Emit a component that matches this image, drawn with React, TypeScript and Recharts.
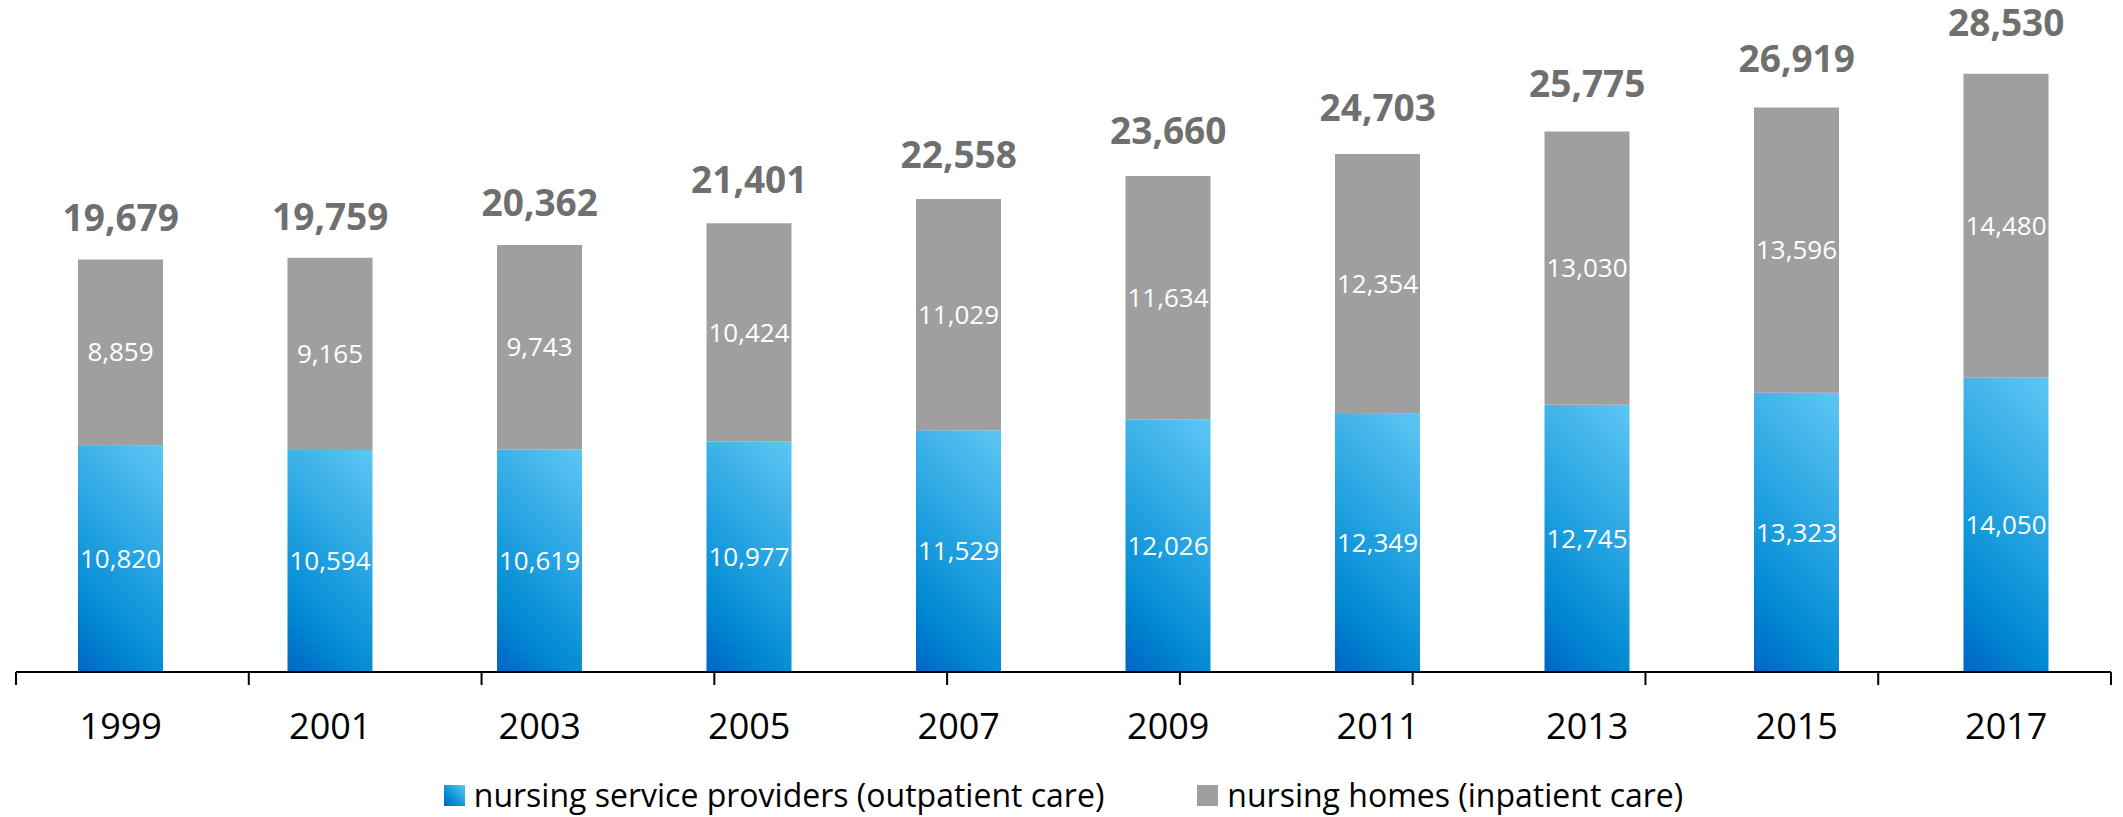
import React from 'react';
import { ComposedChart, Bar, Line, XAxis, YAxis, LabelList, Legend } from 'recharts';

const years = ['1999', '2001', '2003', '2005', '2007', '2009', '2011', '2013', '2015', '2017'];
const outpatient = [10820, 10594, 10619, 10977, 11529, 12026, 12349, 12745, 13323, 14050];
const inpatient = [8859, 9165, 9743, 10424, 11029, 11634, 12354, 13030, 13596, 14480];
const totals = [19679, 19759, 20362, 21401, 22558, 23660, 24703, 25775, 26919, 28530];
const edgeTicks = [0, 1, 2, 3, 4, 5, 6, 7, 8, 9, 10];
const seriesNames = ['nursing service providers (outpatient care)', 'nursing homes (inpatient care)'];

const data = years.map((y, i) => ({
  year: y,
  outpatient: outpatient[i],
  inpatient: inpatient[i],
  total: totals[i],
}));

const FONT = '"Open Sans", sans-serif';
const fmt = (v: any) => Number(v).toLocaleString('en-US');

const BLUE_STOPS = [
  { o: 0, c: '#0064c6' },
  { o: 0.22, c: '#0088d2' },
  { o: 0.5, c: '#20a0e0' },
  { o: 0.78, c: '#44b5ea' },
  { o: 1, c: '#5cc7f4' },
];

const GradientBar = (props: any) => {
  const { x, y, width, height, index } = props;
  if (!height || height <= 0) return null;
  const L = (width + height) / 2;
  const id = `blueGrad${index}`;
  return (
    <g>
      <defs>
        <linearGradient id={id} gradientUnits="userSpaceOnUse" x1={x} y1={y + height} x2={x + L} y2={y + height - L}>
          {BLUE_STOPS.map((s) => (
            <stop key={s.o} offset={s.o} stopColor={s.c} />
          ))}
        </linearGradient>
      </defs>
      <rect x={x} y={y} width={width} height={height} fill={`url(#${id})`} />
    </g>
  );
};

const EmptyTick = () => <g />;

const renderLegend = () => (
  <div
    style={{
      display: 'flex',
      justifyContent: 'center',
      alignItems: 'center',
      paddingTop: 18,
      height: 30,
      paddingBottom: 7,
      fontFamily: FONT,
      fontSize: 32,
      lineHeight: '30px',
      color: '#000',
      whiteSpace: 'nowrap',
    }}
  >
    <span
      style={{
        display: 'inline-block',
        width: 21,
        height: 21,
        background: 'linear-gradient(45deg, #0064c6, #0088d2 30%, #5cc7f4)',
        marginRight: 9,
      }}
    />
    <span>{seriesNames[0]}</span>
    <span
      style={{
        display: 'inline-block',
        width: 21,
        height: 21,
        background: '#9f9f9f',
        marginLeft: 93,
        marginRight: 9,
      }}
    />
    <span>{seriesNames[1]}</span>
  </div>
);

export default function App() {
  return (
    <div style={{ position: 'absolute', left: 0, top: 0, width: 2123, height: 817, background: '#fff' }}>
      <ComposedChart
        width={2123}
        height={817}
        data={data}
        margin={{ top: 43, right: 12, bottom: 0, left: 16 }}
        style={{ overflow: 'visible' }}
      >
        <XAxis
          xAxisId="edge"
          type="number"
          domain={[0, 10]}
          ticks={edgeTicks}
          interval={0}
          allowDataOverflow
          tick={EmptyTick}
          tickSize={13}
          tickLine={{ stroke: '#000', strokeWidth: 2 }}
          axisLine={{ stroke: '#000', strokeWidth: 2 }}
          height={1}
        />
        <XAxis
          xAxisId="main"
          dataKey="year"
          axisLine={false}
          tickLine={false}
          tickSize={13}
          tickMargin={27}
          interval={0}
          height={89}
          tick={{ fill: '#000', fontSize: 36, fontFamily: FONT }}
        />
        <YAxis yAxisId="left" domain={[0, 30000]} hide />
        <YAxis yAxisId="tot" orientation="right" domain={[0, 28543]} hide />
        <Legend verticalAlign="bottom" content={renderLegend} />
        <Bar
          xAxisId="main"
          yAxisId="left"
          dataKey="outpatient"
          name={seriesNames[0]}
          stackId="a"
          barSize={85}
          fill="#1a9ade"
          shape={GradientBar}
          isAnimationActive={false}
        >
          <LabelList dataKey="outpatient" position="center" formatter={fmt} fill="#fff" fontSize={26} fontFamily={FONT} />
        </Bar>
        <Bar
          xAxisId="main"
          yAxisId="left"
          dataKey="inpatient"
          name={seriesNames[1]}
          stackId="a"
          barSize={85}
          fill="#9f9f9f"
          isAnimationActive={false}
        >
          <LabelList dataKey="inpatient" position="center" formatter={fmt} fill="#fff" fontSize={26} fontFamily={FONT} />
        </Bar>
        <Line
          xAxisId="main"
          yAxisId="tot"
          dataKey="total"
          stroke="none"
          dot={false}
          activeDot={false}
          legendType="none"
          isAnimationActive={false}
        >
          <LabelList
            dataKey="total"
            position="top"
            offset={7}
            formatter={fmt}
            fill="#6f6f6f"
            fontSize={37}
            fontWeight={700}
            fontFamily={FONT}
          />
        </Line>
      </ComposedChart>
    </div>
  );
}
